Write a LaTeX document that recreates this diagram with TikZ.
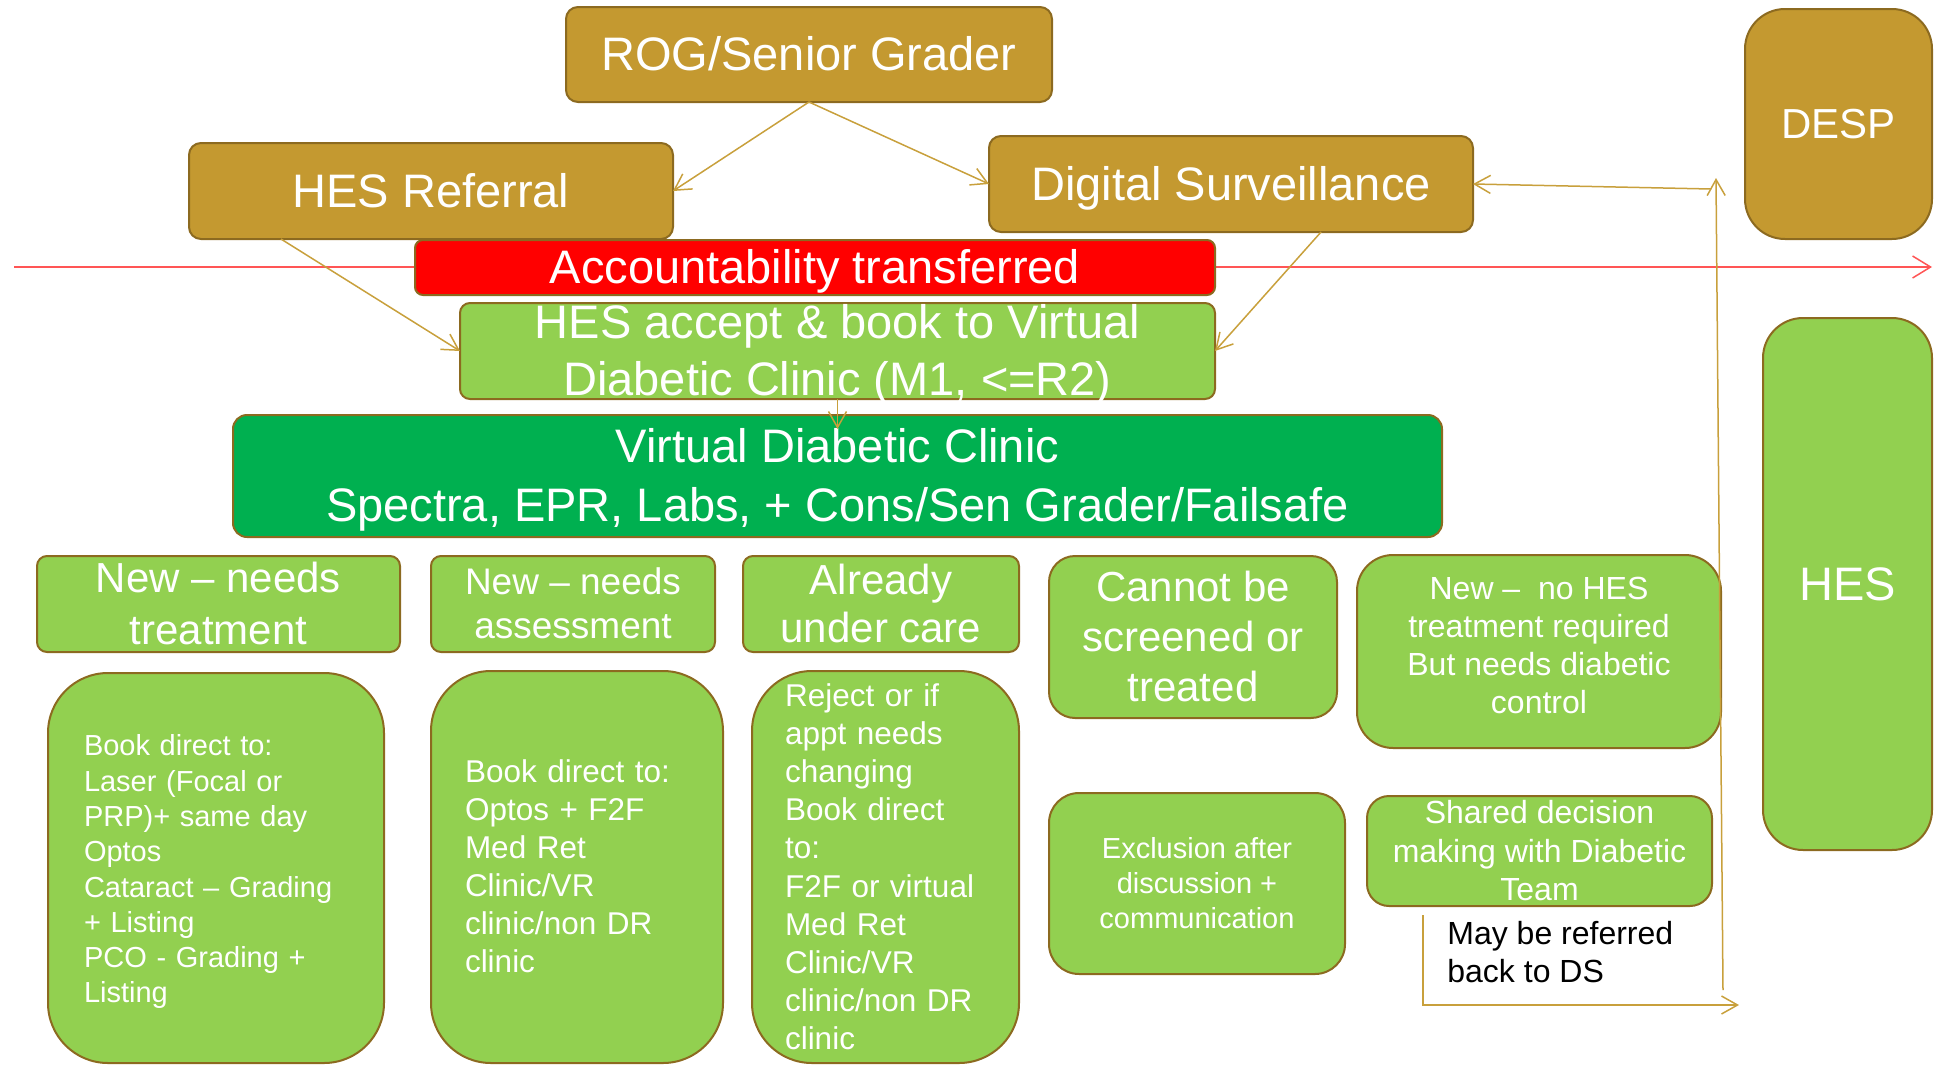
\documentclass[tikz,border=0pt]{standalone}
\usepackage{fontspec}
\setmainfont{Liberation Sans}
\usetikzlibrary{arrows.meta,calc}
\definecolor{gold}{RGB}{196,153,48}
\definecolor{brd}{RGB}{140,106,32}
\definecolor{lgreen}{RGB}{146,208,80}
\definecolor{dgreen}{RGB}{0,176,80}
\definecolor{conncol}{RGB}{200,160,60}
\definecolor{redline}{RGB}{255,85,85}
% box node (fixed size) plus an overlaid text node
\newcommand\bx[8]{%
  \node[#6, minimum width={(#4-#2)*0.5pt}, minimum height={(#5-#3)*0.5pt}] (#1) at ({(#2+#4)/2},{(#3+#5)/2}) {};
  \node[boxtext,#7] (#1-t) at (#1.center) {#8};}
\newcommand\ps{\rule[-0.212em]{0pt}{1.117em}}
\begin{document}
\begin{tikzpicture}[x=0.5pt,y=-0.5pt,
  box/.style={draw=brd, line width=1pt, rounded corners=#1, inner sep=0pt, outer sep=0pt},
  box/.default=6pt,
  goldbox/.style={box=#1, fill=gold},
  goldbox/.default=6pt,
  greenbox/.style={box=#1, fill=lgreen},
  greenbox/.default=6pt,
  boxtext/.style={inner sep=0pt, outer sep=0pt, text=white, align=center},
  big/.style={font=\fontsize{23.5pt}{28.5pt}\selectfont},
  mid/.style={font=\fontsize{21pt}{25pt}\selectfont},
  conn/.style={draw=conncol, line width=0.75pt, -{Straight Barb[length=8pt,width=9pt]}},
  redarrow/.style={draw=redline, line width=0.75pt, -{Straight Barb[length=9pt,width=11pt]}}
]
\useasboundingbox (0,0) rectangle (1934,1066);

% red accountability line
\coordinate (rl) at (14,267);
\coordinate (rr) at (1932,267);
\draw[redarrow] (rl) -- (rr);

% top boxes
\bx{rog}{566}{7}{1052}{102}{goldbox}{big}{\ps ROG/Senior Grader}
\bx{hesref}{189}{143}{673}{239}{goldbox}{big}{\ps HES Referral}
\bx{ds}{989}{136}{1473}{232}{goldbox}{big}{\ps Digital Surveillance}
\bx{desp}{1745}{9}{1932}{239}{goldbox=20pt}{mid}{\ps DESP}
\bx{acc}{415}{240}{1215}{295}{box=4pt,fill=red}{big}{\ps Accountability transferred}
\bx{hesacc}{460}{303}{1215}{399}{greenbox=5pt}{big}{\ps HES accept \& book to Virtual\\Diabetic Clinic (M1, <=R2)\ps}
\bx{vdc}{233}{415}{1442}{537}{box=7pt,fill=dgreen}{font=\fontsize{23.5pt}{29.5pt}\selectfont}{\ps Virtual Diabetic Clinic\\Spectra, EPR, Labs, + Cons/Sen Grader/Failsafe\ps}
\bx{hesbig}{1763}{318}{1932}{850}{greenbox=20pt}{big}{\ps HES}

% first row
\bx{r1a}{37}{556}{400}{652}{greenbox=5pt}{font=\fontsize{21pt}{26pt}\selectfont}{\ps New – needs\\treatment\ps}
\bx{r1b}{431}{556}{715}{652}{greenbox=5pt}{font=\fontsize{18.5pt}{22pt}\selectfont}{\ps New – needs\\assessment\ps}
\bx{r1c}{743}{556}{1019}{652}{greenbox=5pt}{font=\fontsize{21pt}{24pt}\selectfont}{\ps Already\\under care\ps}
\bx{r1d}{1049}{556}{1337}{718}{greenbox=13pt}{font=\fontsize{21pt}{25pt}\selectfont}{\ps Cannot be\\screened or\\treated\ps}
\bx{r1e}{1357}{555}{1721}{748}{greenbox=18pt}{font=\fontsize{16pt}{19pt}\selectfont}{\ps New –\ \ no HES\\treatment required\\But needs diabetic\\control\rule[-0.62em]{0pt}{0pt}}

% second row
\bx{bA}{48}{673}{384}{1063}{greenbox=30pt}{align=left,text width=132pt,font=\fontsize{14.5pt}{17.65pt}\selectfont}{\rule{0pt}{1em}Book direct to:\\Laser (Focal or\\PRP)+ same day\\Optos\\Cataract – Grading\\+ Listing\\PCO - Grading +\\Listing\ps}
\bx{bB}{431}{671}{723}{1063}{greenbox=30pt}{align=left,text width=112pt,font=\fontsize{15.75pt}{19pt}\selectfont}{\ps Book direct to:\\Optos + F2F\\Med Ret\\Clinic/VR\\clinic/non DR\\clinic\ps}
\bx{bC}{752}{671}{1019}{1063}{greenbox=30pt}{align=left,text width=100.5pt,font=\fontsize{15.75pt}{19.1pt}\selectfont}{\ps Reject or if\\appt needs\\changing\\Book direct\\to:\\F2F or virtual\\Med Ret\\Clinic/VR\\clinic/non DR\\clinic\ps}
\bx{excl}{1049}{793}{1345}{974}{greenbox=15pt}{font=\fontsize{14.5pt}{17.5pt}\selectfont}{\ps Exclusion after\\discussion +\\communication\ps}
\bx{shared}{1367}{796}{1712}{906}{greenbox=11pt}{font=\fontsize{16pt}{19.25pt}\selectfont}{\ps Shared decision\\making with Diabetic\\Team\ps}
\node[anchor=north west, inner sep=0pt, align=left, text=black, font=\fontsize{16pt}{19pt}\selectfont] (mayref) at (1447,921) {May be referred\\back to DS};

% connectors
\draw[conn] (rog.south) -- (hesref.east);
\draw[conn] (rog.south) -- (ds.west);
\draw[conn] ($(hesref.south west)!0.19!(hesref.south east)$) -- (hesacc.west);
\draw[conn] ($(ds.south west)!0.686!(ds.south east)$) -- (hesacc.east);
\draw[conn] (hesacc.south) -- ($(hesacc.south |- vdc.north)+(0,14)$);
\coordinate (vbot) at (1723,990);
\coordinate (vtop) at (1716,178);
\draw[conn] (vbot) -- (vtop);
\coordinate (hstart) at (1711,189);
\draw[conn] (hstart) -- (ds.east);
\coordinate (lstart) at (1423,915);
\coordinate (lend) at (1739,1005);
\draw[conn] (lstart) |- (lend);
\end{tikzpicture}
\end{document}
